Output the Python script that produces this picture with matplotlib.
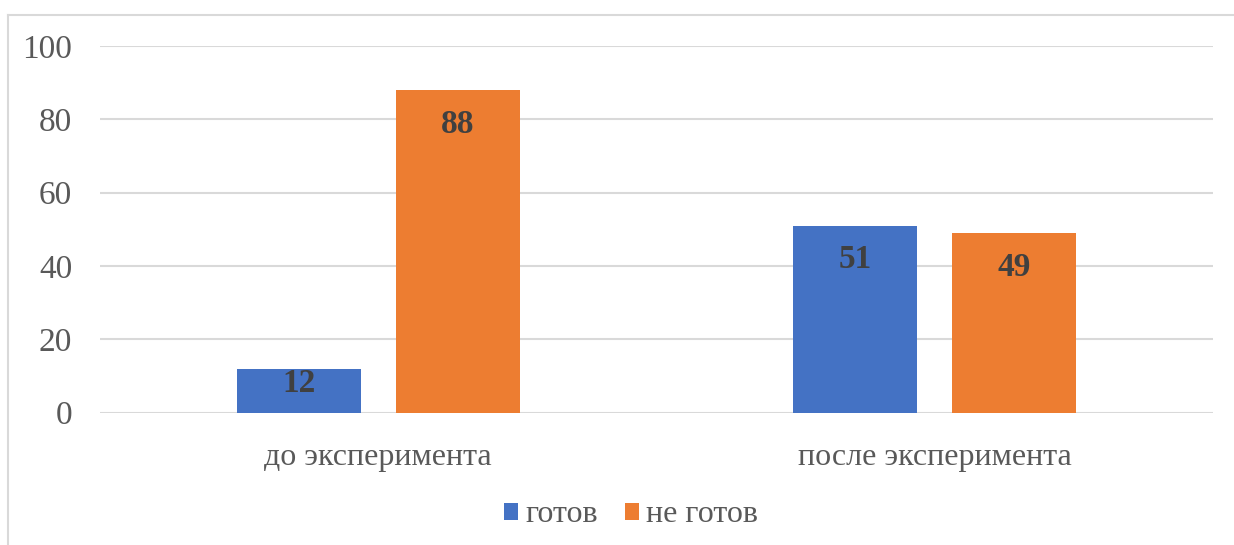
import numpy as np
import matplotlib.pyplot as plt
from matplotlib.lines import Line2D

# данные
categories = ['до эксперимента', 'после эксперимента']
ready = [12, 51]
not_ready = [88, 49]
series_names = ['готов', 'не готов']
y_ticks = [0, 20, 40, 60, 80, 100]

col_blue = '#4472C4'
col_orange = '#ED7D31'
text_col = '#595959'
label_col = '#404040'
grid_col = '#D9D9D9'

plt.rcParams['font.family'] = ['Liberation Serif', 'DejaVu Serif']

fig = plt.figure(figsize=(12.34, 5.45), dpi=100)
ax = fig.add_axes([100/1234, 1 - 412.7/545, (1213 - 100)/1234, (412.7 - 46)/545])

x = np.arange(len(categories))
w = 0.223
off = w/2 + 0.0315

b1 = ax.bar(x - off, ready, w, color=col_blue, label=series_names[0], zorder=3)
b2 = ax.bar(x + off, not_ready, w, color=col_orange, label=series_names[1], zorder=3)

# подписи значений внутри столбцов
for bars in (b1, b2):
    for rect in bars:
        h = rect.get_height()
        # маленький столбец - подпись почти по центру
        dy = -34 if h > 20 else -15
        ax.annotate(str(int(h)), (rect.get_x() + rect.get_width()/2, h),
                    xytext=(0, dy * 0.72), textcoords='offset points',
                    ha='center', va='center', fontsize=24, fontweight='bold',
                    color=label_col, zorder=4)

ax.set_xlim(-0.5, 1.5)
ax.set_ylim(0, 100)
ax.set_yticks(y_ticks)
ax.set_xticks(x)
ax.set_xticklabels(categories)
ax.tick_params(axis='y', length=0, pad=20, labelsize=24, labelcolor=text_col)
ax.tick_params(axis='x', length=0, pad=22, labelsize=23, labelcolor=text_col)
ax.yaxis.grid(True, color=grid_col, linewidth=1.5, zorder=0)
for s in ax.spines.values():
    s.set_visible(False)

ax.legend(loc='center', bbox_to_anchor=(631/1234, 1 - 515/545),
          bbox_transform=fig.transFigure, ncol=2, frameon=False,
          fontsize=23, labelcolor=text_col, handlelength=0.44, handleheight=0.44,
          handletextpad=0.22, columnspacing=0.84)

# рамка диаграммы (обрезана справа и снизу)
fig.add_artist(Line2D([7.5/1234, 7.5/1234], [0, 1 - 15/545], color=grid_col, linewidth=1.5))
fig.add_artist(Line2D([7.5/1234, 1], [1 - 15/545, 1 - 15/545], color=grid_col, linewidth=1.5))

fig.savefig('out.png', dpi=100)
